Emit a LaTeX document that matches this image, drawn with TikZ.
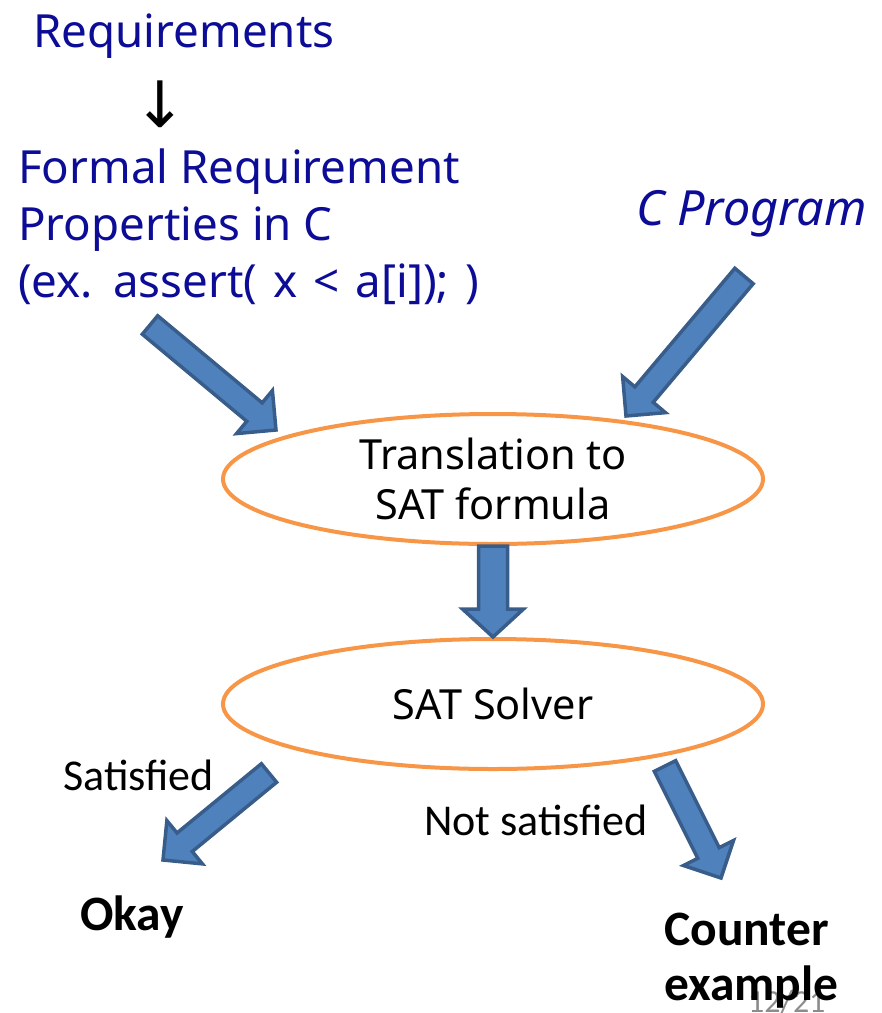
\documentclass[tikz,border=0pt]{standalone}
\usepackage{fontspec}
\setmainfont{Noto Sans}
\newfontfamily\calibri{Carlito}
\newfontfamily\arrowfont{DejaVu Sans}
\usetikzlibrary{shapes.geometric,calc}

\definecolor{navytext}{RGB}{12,12,150}
\definecolor{stageorange}{HTML}{F79646}
\definecolor{arrowfill}{HTML}{4F81BD}
\definecolor{arrowline}{HTML}{385D8A}

\tikzset{
	bluetext/.style={text=navytext, anchor=base west, inner sep=0pt, font=\fontsize{45.7}{57}\selectfont},
	stage/.style={ellipse, draw=stageorange, line width=4pt, minimum width=540pt, minimum height=130pt, inner sep=0pt, align=center, font=\fontsize{41.5}{50}\selectfont},
	result/.style={anchor=base west, inner sep=0pt, font=\calibri\fontsize{44}{55}\selectfont},
	boldresult/.style={anchor=base west, inner sep=0pt, font=\calibri\bfseries\fontsize{49.5}{55}\selectfont},
	fatarrow/.style={fill=arrowfill, draw=arrowline, line width=3.5pt, line join=miter},
}

% block arrow from #2 to #3, shaft half width #1
\newcommand{\fatarrow}[3][12]{%
	\coordinate (base) at ($(#3)!28pt!(#2)$);
	\filldraw[fatarrow] ($(#2)!#1pt!90:(#3)$) -- ($(base)!#1pt!90:(#3)$) -- ($(base)!#1pt+16pt!90:(#3)$) -- (#3)
		-- ($(base)!#1pt+16pt!-90:(#3)$) -- ($(base)!#1pt!-90:(#3)$) -- ($(#2)!#1pt!-90:(#3)$) -- cycle;}

\begin{document}
\begin{tikzpicture}[x=1pt,y=-1pt]
	\useasboundingbox (0,0) rectangle (882,1013);
	%
	\node[bluetext] (req) at (33,47) {Requirements};
	\node[anchor=base, inner sep=0pt, font=\arrowfont\fontsize{64}{66}\selectfont] (down) at (160,127) {↓};
	\node[bluetext] (formal) at (18,183) {Formal Requirement};
	\node[bluetext] (props) at (18,240) {Properties in C};
	\node[bluetext] (assert) at (18,297) {\spaceskip=16pt (ex. assert( x < a[i]); )};
	\node[bluetext, font=\fontsize{48.5}{50}\selectfont\itshape] (cprog) at (636,225) {C Program};
	%
	\node[stage] (trans) at (493,479) {Translation to\\SAT formula};
	\node[stage] (solver) at (493,704) {SAT Solver};
	%
	\node[result] (sat) at (63,790) {Satisfied};
	\node[result] (notsat) at (424,835) {Not satisfied};
	\node[boldresult] (okay) at (80,930) {Okay};
	\node[anchor=base west, inner sep=0pt, text=black!45, font=\calibri\fontsize{32}{32}\selectfont] (pagenum) at (748,1012) {12/21};
	\node[boldresult] (counter) at (664,945) {Counter};
	\node[boldresult] (example) at (664,1000) {example};
	%
	\coordinate (reqtail) at (150,325);
	\coordinate (reqtip) at (276,430);
	\coordinate (progtail) at (744,276);
	\coordinate (progtip) at (626,416);
	\coordinate (sattail) at (269,773);
	\coordinate (sattip) at (163,860);
	\coordinate (nottail) at (665,766);
	\coordinate (nottip) at (721,878);
	%
	\fatarrow{reqtail}{reqtip}
	\fatarrow{progtail}{progtip}
	\fatarrow[14.5]{trans.south}{solver.north}
	\fatarrow{sattail}{sattip}
	\fatarrow{nottail}{nottip}
\end{tikzpicture}
\end{document}
